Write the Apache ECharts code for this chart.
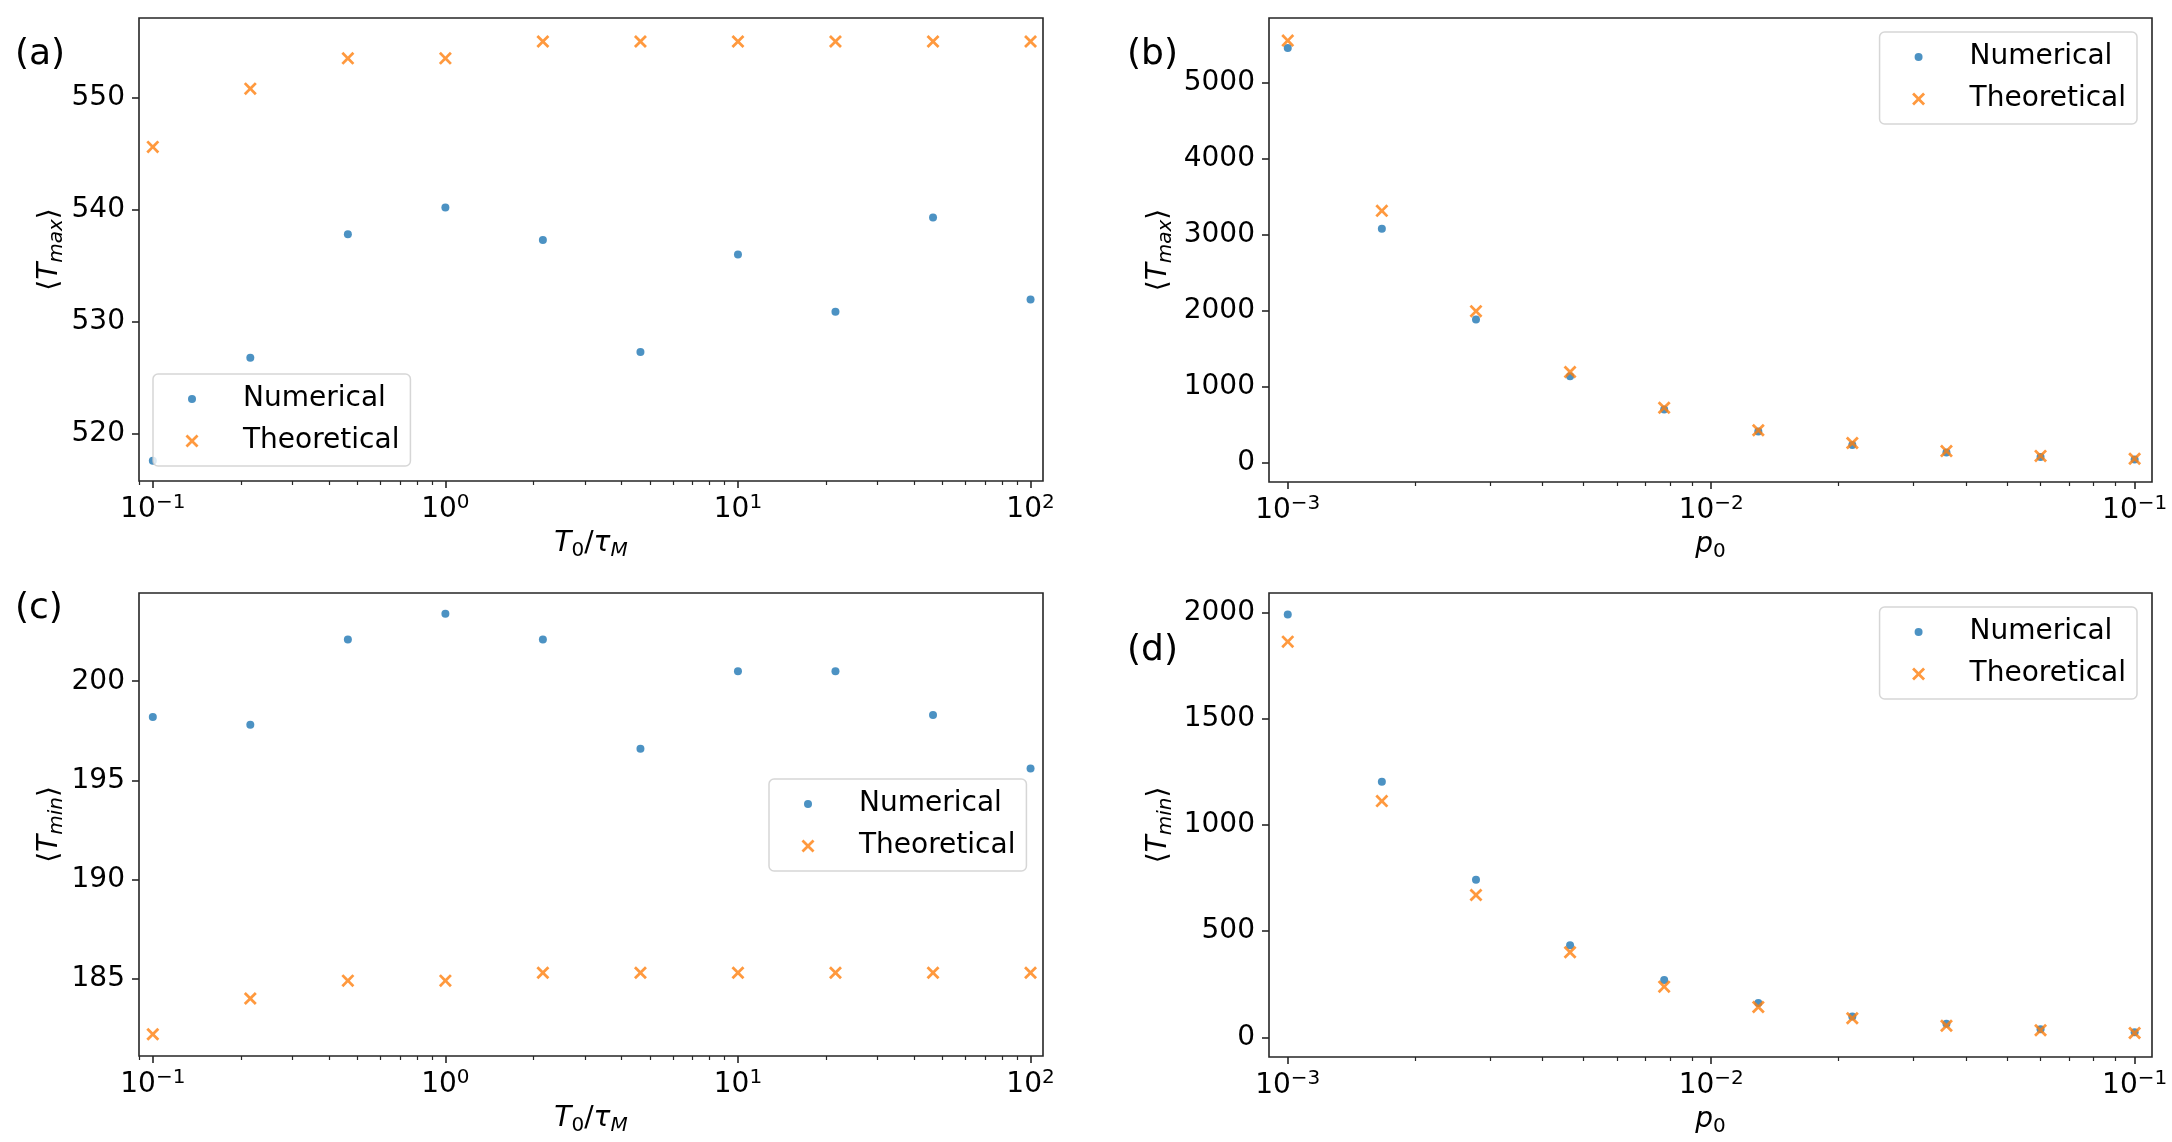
<!DOCTYPE html>
<html lang="en">
<head>
    <meta charset="UTF-8">
    <script src="https://cdn.jsdelivr.net/npm/echarts@6/dist/echarts.min.js"></script>
    <title>Tmax / Tmin</title>
    <style>
        html, body { margin: 0; padding: 0; background: #fff; }
        #main { width: 2172px; height: 1142px; }
    </style>
</head>
<body>
    <div id="main"></div>
    <script>
        // x values
        var ratioX = [0.1, 0.2154, 0.4642, 1, 2.154, 4.642, 10, 21.54, 46.42, 100];
        var p0X = [0.001, 0.001668, 0.002783, 0.004642, 0.007743, 0.01292, 0.02154, 0.03594, 0.05995, 0.1];

        // (a) <Tmax> vs T0/tauM
        var tmaxNumA = [517.6, 526.8, 537.8, 540.2, 537.3, 527.3, 536.0, 530.9, 539.3, 532.0];
        var tmaxTheoA = [545.6, 550.8, 553.5, 553.5, 555.0, 555.0, 555.0, 555.0, 555.0, 555.0];
        // (b) <Tmax> vs p0
        var tmaxNumB = [5461, 3079, 1883, 1134, 696, 408, 230, 130, 72, 38];
        var tmaxTheoB = [5557, 3314, 1993, 1191, 720, 423, 255, 149, 86, 48];
        // (c) <Tmin> vs T0/tauM
        var tminNumC = [198.2, 197.8, 202.1, 203.4, 202.1, 196.6, 200.5, 200.5, 198.3, 195.6];
        var tminTheoC = [182.2, 184.0, 184.9, 184.9, 185.3, 185.3, 185.3, 185.3, 185.3, 185.3];
        // (d) <Tmin> vs p0
        var tminNumD = [1990, 1203, 742, 434, 270, 162, 98, 64, 38, 24];
        var tminTheoD = [1862, 1112, 670, 401, 239, 143, 90, 55, 34, 21];

        // tick labels
        var ratioTicks = [0.1, 1, 10, 100];
        var ratioTickExp = ['\u22121', '0', '1', '2'];
        var p0Ticks = [0.001, 0.01, 0.1];
        var p0TickExp = ['\u22123', '\u22122', '\u22121'];
        var yTicksA = [520, 530, 540, 550];
        var yTicksB = [0, 1000, 2000, 3000, 4000, 5000];
        var yTicksC = [185, 190, 195, 200];
        var yTicksD = [0, 500, 1000, 1500, 2000];

        var FONT = 'DejaVu Sans';
        var BLUE = '#1f77b4';
        var ORANGE = '#ff7f0e';
        var FRAME = '#262626';
        var X_PATH = 'path://M0,1.5L1.5,0L5,3.5L8.5,0L10,1.5L6.5,5L10,8.5L8.5,10L5,6.5L1.5,10L0,8.5L3.5,5Z';
        // legend icons: 74x14 box, marker centred at x=28
        var DOT_ICON = 'path://M0,0M74,14M32,7A4,4,0,1,1,24,7A4,4,0,1,1,32,7Z';
        var X_ICON = 'path://M0,0M74,14M21.5,2.45L23.45,0.5L28,5.05L32.55,0.5L34.5,2.45L29.95,7L34.5,11.55L32.55,13.5L28,8.95L23.45,13.5L21.5,11.55L26.05,7Z';

        function minorTicks(lo, hi) {
            var out = [];
            for (var d = -4; d <= 3; d++) {
                for (var k = 2; k <= 9; k++) {
                    var v = k * Math.pow(10, d);
                    if (v >= lo && v <= hi) out.push(v);
                }
            }
            return out;
        }

        var grids = [
            { left: 139, top: 18, width: 904, height: 463 },
            { left: 1269, top: 18, width: 883, height: 464 },
            { left: 139, top: 593, width: 904, height: 463 },
            { left: 1269, top: 593, width: 883, height: 464 }
        ];
        grids.forEach(function (g) {
            g.show = true;
            g.borderColor = FRAME;
            g.borderWidth = 1.6;
            g.backgroundColor = 'transparent';
            g.containLabel = false;
            g.outerBoundsMode = 'none';
        });

        var supRich = {
            b: { fontSize: 28, fontFamily: FONT, color: '#000', lineHeight: 34 },
            s: { fontSize: 20, fontFamily: FONT, color: '#000', lineHeight: 25, verticalAlign: 'top' }
        };
        var nameRich = {
            n: { fontSize: 28, fontFamily: FONT, color: '#000', lineHeight: 34 },
            i: { fontSize: 28, fontFamily: FONT, color: '#000', fontStyle: 'italic', lineHeight: 34 },
            si: { fontSize: 20, fontFamily: FONT, color: '#000', fontStyle: 'italic', lineHeight: 17, verticalAlign: 'bottom' },
            sn: { fontSize: 20, fontFamily: FONT, color: '#000', lineHeight: 17, verticalAlign: 'bottom' }
        };

        function xMajor(grid, lo, hi, ticks, exps, name) {
            return {
                type: 'log', gridIndex: grid, position: 'bottom', min: lo, max: hi,
                axisLine: { show: false, onZero: false },
                splitLine: { show: false },
                axisTick: { show: true, customValues: ticks, length: 7, lineStyle: { color: FRAME, width: 1.6 } },
                axisLabel: {
                    customValues: ticks, margin: 12,
                    formatter: function (v) {
                        for (var i = 0; i < ticks.length; i++) {
                            if (Math.abs(Math.log10(v) - Math.log10(ticks[i])) < 1e-6) {
                                return '{b|10}{s|' + exps[i] + '}';
                            }
                        }
                        return '';
                    },
                    rich: supRich
                },
                name: name, nameLocation: 'middle', nameGap: 46, nameMoveOverlap: false,
                nameTextStyle: { rich: nameRich }
            };
        }
        function xMinor(grid, lo, hi) {
            return {
                type: 'log', gridIndex: grid, position: 'bottom', min: lo, max: hi,
                axisLine: { show: false, onZero: false },
                splitLine: { show: false },
                axisLabel: { show: false },
                axisTick: { show: true, customValues: minorTicks(lo, hi), length: 4, lineStyle: { color: FRAME, width: 1.2 } }
            };
        }
        function yAxisOf(grid, lo, hi, ticks, name, gap) {
            return {
                type: 'value', gridIndex: grid, position: 'left', min: lo, max: hi,
                axisLine: { show: false, onZero: false },
                splitLine: { show: false },
                axisTick: { show: true, customValues: ticks, length: 7, lineStyle: { color: FRAME, width: 1.6 } },
                axisLabel: {
                    customValues: ticks, margin: 14, fontSize: 28, fontFamily: FONT, color: '#000',
                    formatter: function (v) { return String(v); }
                },
                name: name, nameLocation: 'middle', nameGap: gap, nameMoveOverlap: false,
                nameTextStyle: { rich: nameRich }
            };
        }

        var ratioName = '{i|T}{sn|0}{n|/}{i|\u03c4}{si|M}';
        var p0Name = '{i|p}{sn|0}';
        var tmaxName = '{n|\u27e8}{i|T}{si|max}{n|\u27e9}';
        var tminName = '{n|\u27e8}{i|T}{si|min}{n|\u27e9}';

        var xAxes = [
            xMajor(0, 0.0897, 110.3, ratioTicks, ratioTickExp, ratioName), xMinor(0, 0.0897, 110.3),
            xMajor(1, 0.000903, 0.1099, p0Ticks, p0TickExp, p0Name), xMinor(1, 0.000903, 0.1099),
            xMajor(2, 0.0897, 110.3, ratioTicks, ratioTickExp, ratioName), xMinor(2, 0.0897, 110.3),
            xMajor(3, 0.000903, 0.1099, p0Ticks, p0TickExp, p0Name), xMinor(3, 0.000903, 0.1099)
        ];
        var yAxes = [
            yAxisOf(0, 515.8, 557.1, yTicksA, tmaxName, 72),
            yAxisOf(1, -258, 5855, yTicksB, tmaxName, 93),
            yAxisOf(2, 181.1, 204.45, yTicksC, tminName, 72),
            yAxisOf(3, -92, 2091, yTicksD, tminName, 93)
        ];

        function pairs(xs, ys) {
            return xs.map(function (x, i) { return [x, ys[i]]; });
        }
        function numSeries(p, xs, ys) {
            return {
                name: 'Numerical', type: 'scatter', xAxisIndex: p * 2, yAxisIndex: p,
                symbol: 'circle', symbolSize: 8, itemStyle: { color: BLUE }, z: 2,
                data: pairs(xs, ys)
            };
        }
        function theoSeries(p, xs, ys) {
            return {
                name: 'Theoretical', type: 'scatter', xAxisIndex: p * 2, yAxisIndex: p,
                symbol: X_PATH, symbolSize: 13, itemStyle: { color: ORANGE }, z: 3,
                data: pairs(xs, ys)
            };
        }

        function legendAt(pos) {
            var l = {
                orient: 'vertical', selectedMode: false,
                padding: [11, 11, 11, 11], itemWidth: 74, itemHeight: 14, itemGap: 14,
                borderColor: 'rgba(204,204,204,0.8)', borderWidth: 1.5, borderRadius: 5,
                backgroundColor: 'rgba(255,255,255,0.8)',
                textStyle: { fontSize: 28, fontFamily: FONT, color: '#000', lineHeight: 28 },
                data: [{ name: 'Numerical', icon: DOT_ICON }, { name: 'Theoretical', icon: X_ICON }],
                z: 10
            };
            for (var k in pos) l[k] = pos[k];
            return l;
        }

        function panelLabel(text, x, y) {
            return {
                type: 'text', left: x, top: y,
                style: { text: text, fontSize: 36, fontFamily: FONT, fill: '#000' }
            };
        }

        var myChart = echarts.init(document.getElementById('main'));
        var option = {
            animation: false,
            backgroundColor: '#fff',
            grid: grids,
            xAxis: xAxes,
            yAxis: yAxes,
            legend: [
                legendAt({ left: 153, top: 374 }),
                legendAt({ right: 35, top: 32 }),
                legendAt({ left: 769, top: 779 }),
                legendAt({ right: 35, top: 607 })
            ],
            graphic: [
                panelLabel('(a)', 15, 37),
                panelLabel('(b)', 1127, 37),
                panelLabel('(c)', 15, 591),
                panelLabel('(d)', 1127, 633)
            ],
            series: [
                numSeries(0, ratioX, tmaxNumA), theoSeries(0, ratioX, tmaxTheoA),
                numSeries(1, p0X, tmaxNumB), theoSeries(1, p0X, tmaxTheoB),
                numSeries(2, ratioX, tminNumC), theoSeries(2, ratioX, tminTheoC),
                numSeries(3, p0X, tminNumD), theoSeries(3, p0X, tminTheoD)
            ]
        };
        myChart.setOption(option);
    </script>
</body>
</html>
